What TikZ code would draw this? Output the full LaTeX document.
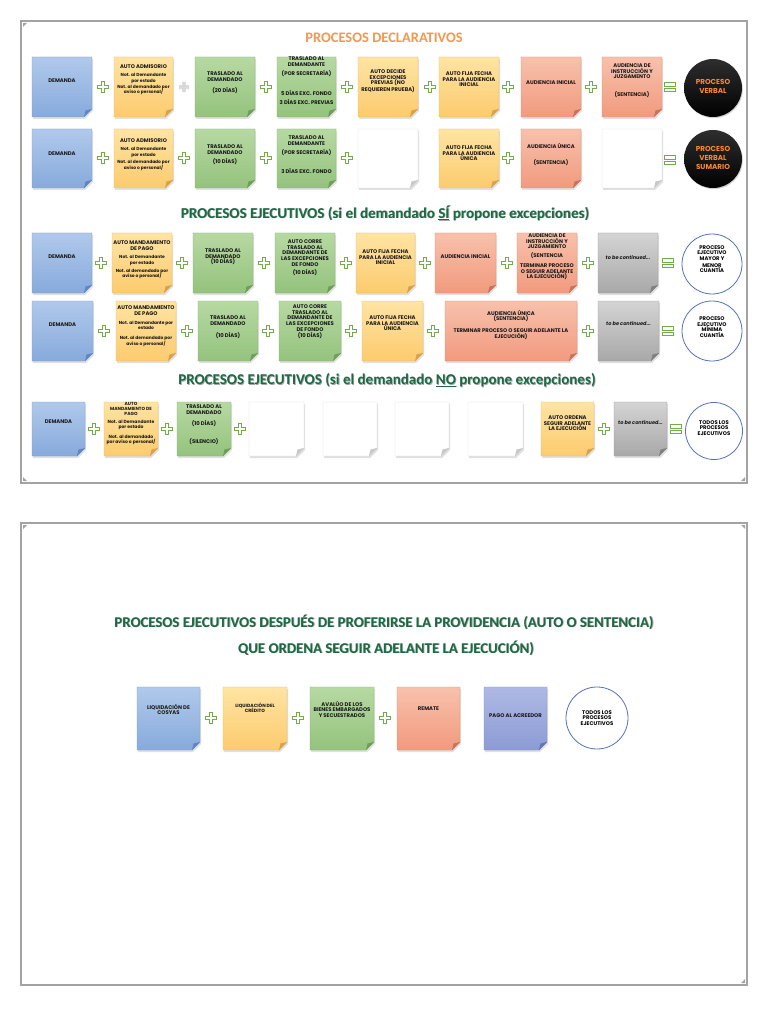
\documentclass[tikz,border=0pt]{standalone}
\usepackage{fontspec}
\setmainfont{Carlito}
\newfontfamily\gothic{Poppins}
\usetikzlibrary{fit,positioning,shadows}
\definecolor{blueT}{HTML}{B0C9EB}\definecolor{blueB}{HTML}{87AADC}\definecolor{blueE}{HTML}{7C9FD2}\definecolor{blueF}{HTML}{5F86C2}
\definecolor{oraT}{HTML}{FFE4A3}\definecolor{oraB}{HTML}{FCCB6E}\definecolor{oraE}{HTML}{E9B964}\definecolor{oraF}{HTML}{D9A24A}
\definecolor{grnT}{HTML}{B7D9A3}\definecolor{grnB}{HTML}{94C37D}\definecolor{grnE}{HTML}{84B36E}\definecolor{grnF}{HTML}{6E9E58}
\definecolor{salT}{HTML}{F8C1AC}\definecolor{salB}{HTML}{F19A7E}\definecolor{salE}{HTML}{DD8A6F}\definecolor{salF}{HTML}{C8735A}
\definecolor{gryT}{HTML}{D4D4D4}\definecolor{gryB}{HTML}{A8A8A8}\definecolor{gryE}{HTML}{9A9A9A}\definecolor{gryF}{HTML}{808080}
\definecolor{purT}{HTML}{AEB9E4}\definecolor{purB}{HTML}{8C9BD5}\definecolor{purE}{HTML}{7E8DC9}\definecolor{purF}{HTML}{6475B5}
\definecolor{wE}{HTML}{D8D8D8}\definecolor{wF}{HTML}{C8C8C8}
\definecolor{plusG}{HTML}{70AD47}\definecolor{ttlG}{HTML}{1A6A43}\definecolor{ttlO}{HTML}{F4974F}
\definecolor{circB}{HTML}{5572B8}\definecolor{circO}{HTML}{F7882F}\definecolor{frameG}{HTML}{A3A3A3}
\tikzset{
  nblue/.style={top color=blueT,bottom color=blueB,draw=blueE},nblue fold/.style={fill=blueF},
  norange/.style={top color=oraT,bottom color=oraB,draw=oraE},norange fold/.style={fill=oraF},
  ngreen/.style={top color=grnT,bottom color=grnB,draw=grnE},ngreen fold/.style={fill=grnF},
  nsalmon/.style={top color=salT,bottom color=salB,draw=salE},nsalmon fold/.style={fill=salF},
  ngray/.style={top color=gryT,bottom color=gryB,draw=gryE},ngray fold/.style={fill=gryF},
  npurple/.style={top color=purT,bottom color=purB,draw=purE},npurple fold/.style={fill=purF},
  nwhite/.style={fill=white,draw=wE},nwhite fold/.style={fill=wF},
  plusst/.style={draw=plusG,fill=white,line width=0.8pt},
  faintplus/.style={fill=black!15},
  txt/.style={font=\gothic\bfseries\fontsize{5.3}{5.6}\selectfont,align=center,inner sep=0pt,text=black!90},
  tbc/.style={txt,font=\gothic\bfseries\itshape\fontsize{5}{5.5}\selectfont},
  ctxt/.style={font=\gothic\bfseries\fontsize{5.3}{5.5}\selectfont,align=center,inner sep=0pt},
  otxt/.style={font=\gothic\bfseries\fontsize{7.2}{9.3}\selectfont,text=circO,align=center,inner sep=0pt},
  blackcirc/.style={circle,minimum size=58pt,inner sep=0pt,top color=black!82,bottom color=black,drop shadow={opacity=0.35,shadow xshift=0.8pt,shadow yshift=-1.2pt}},
  whitecirc/.style={circle,inner sep=0pt,draw=circB,line width=0.8pt,fill=white},
  ttl/.style={font=\bfseries\fontsize{15}{18}\selectfont,text=ttlG,inner sep=0pt},
  ttls/.style={ttl,text=black!35},
  ttlb/.style={font=\bfseries\fontsize{14.8}{17}\selectfont,text=ttlG,inner sep=0pt},
  ttlbs/.style={ttlb,text=black!35}
}
\newcommand{\nt}{\fontsize{4.4}{5.6}\selectfont}
\newcommand{\notebox}[6]{%
  \fill[black,opacity=0.12] (#2+1,#3+2) -- (#4+1,#3+2) -- (#4+1,#5-6) -- (#4-7,#5+2) -- (#2+1,#5+2) -- cycle;
  \path[#6,line width=0.4pt] (#2,#3) -- (#4,#3) -- (#4,#5-8) -- (#4-8,#5) -- (#2,#5) -- cycle;
  \fill[#6 fold] (#4-8,#5) -- (#4,#5-8) -- (#4-6.5,#5-6.5) -- cycle;
  \node[fit={(#2,#3) (#4,#5)},inner sep=0pt] (#1) {};}
\newcommand{\plusat}[3][plusst]{%
  \path[#1] (#2-1.8,#3-5.2) -- (#2+1.8,#3-5.2) -- (#2+1.8,#3-1.8) -- (#2+5.2,#3-1.8) -- (#2+5.2,#3+1.8) -- (#2+1.8,#3+1.8) -- (#2+1.8,#3+5.2) -- (#2-1.8,#3+5.2) -- (#2-1.8,#3+1.8) -- (#2-5.2,#3+1.8) -- (#2-5.2,#3-1.8) -- (#2-1.8,#3-1.8) -- cycle;}
\newcommand{\eqat}[2]{%
  \path[plusst] (#1-5.5,#2-4.5) rectangle (#1+5.5,#2-1);
  \path[plusst] (#1-5.5,#2+1) rectangle (#1+5.5,#2+4.5);}
\begin{document}
\begin{tikzpicture}[x=1pt,y=-1pt]
\fill[white] (0,0) rectangle (768,1024);
\useasboundingbox (0,0) rectangle (768,1024);
% page frames
\draw[frameG,line width=2pt] (21,21) rectangle (747,483);
\draw[frameG,line width=2pt] (21,523) rectangle (747,985);
\foreach \cx/\cy/\dx/\dy in {23/23/1/1,745/481/-1/-1,23/481/1/-1,23/525/1/1,745/525/-1/1,745/983/-1/-1}
  \fill[frameG] (\cx,\cy) -- ++(4*\dx,0) -- ++(-4*\dx,4*\dy) -- cycle;

% ---------- titles page 1
\node[font=\bfseries\fontsize{14.5}{17}\selectfont,text=ttlO,inner sep=0pt] (t1) at (384,38) {PROCESOS DECLARATIVOS};
\node[ttls] (t2s) at (385.8,213.8) {PROCESOS EJECUTIVOS (si el demandado \underline{SÍ} propone excepciones)};
\node[ttl] (t2) at (385,213) {PROCESOS EJECUTIVOS (si el demandado \underline{SÍ} propone excepciones)};
\node[ttls] (t3s) at (387.8,380.8) {PROCESOS EJECUTIVOS (si el demandado \underline{NO} propone excepciones)};
\node[ttl] (t3) at (387,380) {PROCESOS EJECUTIVOS (si el demandado \underline{NO} propone excepciones)};

% ---------- row 1
\notebox{a1}{32}{57}{92}{117}{nblue}
\notebox{a2}{114}{57}{173}{117}{norange}
\notebox{a3}{195}{57}{255}{117}{ngreen}
\notebox{a4}{277}{57}{336}{117}{ngreen}
\notebox{a5}{358}{57}{418}{117}{norange}
\notebox{a6}{439}{57}{499}{117}{norange}
\notebox{a7}{521}{57}{581}{117}{nsalmon}
\notebox{a8}{602}{57}{662}{117}{nsalmon}
\node[blackcirc] (a9) at (713,88) {};
\node[txt,below=22pt of a1.north] (a1t) {DEMANDA};
\node[txt,below=8pt of a2.north] (a2t) {AUTO ADMISORIO\\[2.2pt]\nt Not. al Demandante\\\nt por estado\\[0.4pt]\nt Not. al demandado por\\\nt aviso o personal/};
\node[txt,below=15pt of a3.north] (a3t) {TRASLADO AL\\DEMANDADO\\[5.2pt](20 DÍAS)};
\node[txt,below=0pt of a4.north] (a4t) {TRASLADO AL\\DEMANDANTE\\[3.2pt](POR SECRETARÍA)\\[13.2pt]5 DÍAS EXC. FONDO\\[3.2pt]3 DÍAS EXC. PREVIAS};
\node[txt,below=13pt of a5.north] (a5t) {AUTO DECIDE\\EXCEPCIONES\\PREVIAS (NO\\REQUIEREN PRUEBA)};
\node[txt,below=15pt of a6.north] (a6t) {AUTO FIJA FECHA\\PARA LA AUDIENCIA\\INICIAL};
\node[txt,below=24pt of a7.north] (a7t) {AUDIENCIA INICIAL};
\node[txt,below=7pt of a8.north] (a8t) {AUDIENCIA DE\\INSTRUCCIÓN Y\\JUZGAMENTO\\[12.2pt](SENTENCIA)};
\node[otxt] (a9t) at (713,86.5) {PROCESO\\VERBAL};
\plusat{103}{87}\plusat[faintplus]{184}{87}\plusat{266}{87}\plusat{347}{87}\plusat{430}{87}\plusat{508}{87}\plusat{591}{87}
\eqat{670}{87}

% ---------- row 2
\notebox{b1}{32}{129}{92}{188}{nblue}
\notebox{b2}{114}{129}{173}{188}{norange}
\notebox{b3}{195}{129}{255}{188}{ngreen}
\notebox{b4}{277}{129}{336}{188}{ngreen}
\notebox{b5}{358}{129}{418}{188}{nwhite}
\notebox{b6}{439}{129}{499}{188}{norange}
\notebox{b7}{521}{129}{581}{188}{nsalmon}
\notebox{b8}{602}{129}{662}{188}{nwhite}
\node[blackcirc] (b9) at (713,159) {};
\node[txt,below=23pt of b1.north] (b1t) {DEMANDA};
\node[txt,below=10pt of b2.north] (b2t) {AUTO ADMISORIO\\[2.2pt]\nt Not. al Demandante\\\nt por estado\\[2.2pt]\nt Not. al demandado por\\\nt aviso o personal/};
\node[txt,below=16pt of b3.north] (b3t) {TRASLADO AL\\DEMANDADO\\[3.2pt](10 DÍAS)};
\node[txt,below=7pt of b4.north] (b4t) {TRASLADO AL\\DEMANDANTE\\[3.2pt](POR SECRETARÍA)\\[12.2pt]3 DÍAS EXC. FONDO};
\node[txt,below=17pt of b6.north] (b6t) {AUTO FIJA FECHA\\PARA LA AUDIENCIA\\ÚNICA};
\node[txt,below=14pt of b7.north] (b7t) {AUDIENCIA ÚNICA\\[11.2pt](SENTENCIA)};
\node[otxt] (b9t) at (713,158) {PROCESO\\VERBAL\\SUMARIO};
\plusat{103}{158}\plusat{184}{158}\plusat{266}{158}\plusat{347}{158}\plusat{508}{158}
\eqat{670}{160}

% ---------- row 3
\notebox{c1}{32}{233}{92}{293}{nblue}
\notebox{c2}{112}{233}{172}{293}{norange}
\notebox{c3}{193}{233}{253}{293}{ngreen}
\notebox{c4}{275}{233}{335}{293}{ngreen}
\notebox{c5}{356}{233}{415}{293}{norange}
\notebox{c6}{435}{233}{496}{293}{nsalmon}
\notebox{c7}{517}{233}{577}{293}{nsalmon}
\notebox{c8}{598}{233}{658}{293}{ngray}
\node[whitecirc,minimum size=60pt] (c9) at (712,264) {};
\node[txt,below=22pt of c1.north] (c1t) {DEMANDA};
\node[txt,below=8pt of c2.north] (c2t) {AUTO MANDAMIENTO\\DE PAGO\\[2.6pt]\nt Not. al Demandante\\\nt por estado\\[2.6pt]\nt Not. al demandado por\\\nt aviso o personal/};
\node[txt,below=16pt of c3.north] (c3t) {TRASLADO AL\\DEMANDADO\\(10 DÍAS)};
\node[txt,below=7pt of c4.north] (c4t) {AUTO CORRE\\TRASLADO AL\\DEMANDANTE DE\\LAS EXCEPCIONES\\DE FONDO\\[3pt](10 DÍAS)};
\node[txt,below=17pt of c5.north] (c5t) {AUTO FIJA FECHA\\PARA LA AUDIENCIA\\INICIAL};
\node[txt,below=22pt of c6.north] (c6t) {AUDIENCIA INICIAL};
\node[txt,below=1pt of c7.north] (c7t) {AUDIENCIA DE\\INSTRUCCIÓN Y\\JUZGAMIENTO\\[3.3pt](SENTENCIA\\[4.3pt]TERMINAR PROCESO\\O SEGUIR ADELANTE\\LA EJECUCIÓN)};
\node[tbc,below=22pt of c8.north] (c8t) {to be continued...};
\node[ctxt] (c9t) at (712,259) {PROCESO\\EJECUTIVO\\MAYOR Y\\[1.5pt]MENOR\\CUANTÍA};
\plusat{101}{263}\plusat{182}{263}\plusat{264}{263}\plusat{346}{263}\plusat{425}{263}\plusat{507}{263}\plusat{588}{263}
\eqat{668}{263}

% ---------- row 4
\notebox{d1}{32}{301}{93}{361}{nblue}
\notebox{d2}{116}{301}{176}{361}{norange}
\notebox{d3}{198}{301}{258}{361}{ngreen}
\notebox{d4}{279}{301}{341}{361}{ngreen}
\notebox{d5}{362}{301}{423}{361}{norange}
\notebox{d6}{445}{301}{577}{361}{nsalmon}
\notebox{d7}{598}{301}{659}{361}{ngray}
\node[whitecirc,minimum size=60pt] (d9) at (712,331) {};
\node[txt,below=22pt of d1.north] (d1t) {DEMANDA};
\node[txt,below=5pt of d2.north] (d2t) {AUTO MANDAMIENTO\\DE PAGO\\[3.3pt]\nt Not. al Demandante por\\\nt estado\\[4.3pt]\nt Not. al demandado por\\\nt aviso o personal/};
\node[txt,below=15pt of d3.north] (d3t) {TRASLADO AL\\DEMANDADO\\[6.3pt](10 DÍAS)};
\node[txt,below=4pt of d4.north] (d4t) {AUTO CORRE\\TRASLADO AL\\DEMANDANTE DE\\LAS EXCEPCIONES\\[0.5pt]DE FONDO\\[0.5pt](10 DÍAS)};
\node[txt,below=15pt of d5.north] (d5t) {AUTO FIJA FECHA\\PARA LA AUDIENCIA\\ÚNICA};
\node[txt,below=9pt of d6.north] (d6t) {AUDIENCIA ÚNICA\\(SENTENCIA)\\[6.3pt]TERMINAR PROCESO O SEGUIR ADELANTE LA\\EJECUCIÓN)};
\node[tbc,below=20pt of d7.north] (d7t) {to be continued...};
\node[ctxt] (d9t) at (712,327) {PROCESO\\EJECUTIVO\\MÍNIMA\\CUANTÍA};
\plusat{104}{331}\plusat{187}{331}\plusat{268}{331}\plusat{351}{331}\plusat{433}{331}\plusat{588}{331}
\eqat{668}{331}

% ---------- row 5
\notebox{e1}{32}{402}{85}{456}{nblue}
\notebox{e2}{104}{402}{158}{456}{norange}
\notebox{e3}{177}{402}{231}{456}{ngreen}
\notebox{e4}{249}{402}{304}{456}{nwhite}
\notebox{e5}{323}{402}{377}{456}{nwhite}
\notebox{e6}{395}{402}{449}{456}{nwhite}
\notebox{e7}{468}{402}{523}{456}{nwhite}
\notebox{e8}{541}{402}{594}{456}{norange}
\notebox{e9}{614}{402}{667}{456}{ngray}
\node[whitecirc,minimum size=57pt] (e10) at (714,431) {};
\node[txt,below=18pt of e1.north] (e1t) {DEMANDA};
\node[txt,font=\gothic\bfseries\fontsize{4.5}{4.9}\selectfont,below=0pt of e2.north] (e2t) {AUTO\\MANDAMIENTO DE\\PAGO\\[4pt]Not. al Demandante\\por estado\\[4.5pt]Not. al demandado\\por aviso o personal/};
\node[txt,below=3pt of e3.north] (e3t) {TRASLADO AL\\DEMANDADO\\[5.3pt](10 DÍAS)\\[11.3pt](SILENCIO)};
\node[txt,below=14pt of e8.north] (e8t) {AUTO ORDENA\\SEGUIR ADELANTE\\LA EJECUCIÓN};
\node[tbc,below=18pt of e9.north] (e9t) {to be continued...};
\node[ctxt] (e10t) at (714,428) {TODOS LOS\\PROCESOS\\EJECUTIVOS};
\plusat{94}{429}\plusat{167}{429}\plusat{240}{429}\plusat{604}{429}
\eqat{676}{429}

% ---------- page 2
\node[ttlbs] (p1s) at (384.8,622.8) {PROCESOS EJECUTIVOS DESPUÉS DE PROFERIRSE LA PROVIDENCIA (AUTO O SENTENCIA)};
\node[ttlb] (p1) at (384,622) {PROCESOS EJECUTIVOS DESPUÉS DE PROFERIRSE LA PROVIDENCIA (AUTO O SENTENCIA)};
\node[ttlbs] (p2s) at (386.8,648.8) {QUE ORDENA SEGUIR ADELANTE LA EJECUCIÓN)};
\node[ttlb] (p2) at (386,648) {QUE ORDENA SEGUIR ADELANTE LA EJECUCIÓN)};
\notebox{f1}{137}{687}{200}{750}{nblue}
\notebox{f2}{223}{687}{287}{750}{norange}
\notebox{f3}{310}{687}{374}{750}{ngreen}
\notebox{f4}{397}{687}{460}{750}{nsalmon}
\notebox{f5}{484}{687}{547}{750}{npurple}
\node[whitecirc,minimum size=62pt] (f6) at (597,718) {};
\node[txt,below=17pt of f1.north] (f1t) {LIQUIDACIÓN DE\\COSYAS};
\node[txt,font=\gothic\bfseries\fontsize{4.6}{5.4}\selectfont,below=16pt of f2.north] (f2t) {LIQUIDACIÓN DEL\\CRÉDITO};
\node[txt,below=14pt of f3.north] (f3t) {AVALÚO DE LOS\\BIENES EMBARGADOS\\Y SECUESTRADOS};
\node[txt,below=20pt of f4.north] (f4t) {REMATE};
\node[txt,below=27pt of f5.north] (f5t) {PAGO AL ACREEDOR};
\node[ctxt] (f6t) at (597,718) {TODOS LOS\\PROCESOS\\EJECUTIVOS};
\plusat{211}{718}\plusat{298}{718}\plusat{385}{718}
\end{tikzpicture}
\end{document}
